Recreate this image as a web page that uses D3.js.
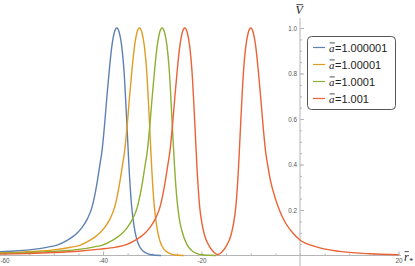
<!DOCTYPE html>
<html>
<head>
<meta charset="utf-8">
<script src="https://cdn.jsdelivr.net/npm/d3@7"></script>
<style>
  body { margin: 0; background: #fff; }
  svg { display: block; }
  .tick text { font-family: "Liberation Sans", Arial, sans-serif; fill: #555; }
</style>
</head>
<body>
<div id="chart_area"></div>
<script>
// legend labels (the part after the barred a)
var series_labels = ["=1.000001", "=1.00001", "=1.0001", "=1.001"];
var series_colors = ["#5e81b5", "#e19c24", "#8fb032", "#eb6235"];

// values: [r*, V]
var blue_pts = [[-61, 0.017], [-57.2, 0.021], [-54.2, 0.027], [-51.2, 0.037], [-49.2, 0.047], [-47.2, 0.068],
  [-46.2, 0.082], [-45.2, 0.1], [-44.2, 0.125], [-43.2, 0.16], [-42.2, 0.215], [-41.2, 0.32], [-40.7, 0.39],
  [-40.2, 0.46], [-39.7, 0.57], [-39.2, 0.7], [-38.7, 0.82], [-38.2, 0.92], [-37.7, 0.98], [-37.2, 1.0],
  [-36.7, 0.98], [-36.2, 0.92], [-35.7, 0.8], [-35.2, 0.6], [-34.7, 0.38], [-34.2, 0.22], [-33.7, 0.13],
  [-33.2, 0.075], [-32.7, 0.045], [-32.2, 0.027], [-31.2, 0.01], [-30.2, 0.003], [-28.2, 0.0]];
var orange_pts = [[-61, 0.012], [-56.6, 0.015], [-52.6, 0.02], [-49.6, 0.026], [-46.6, 0.036], [-44.6, 0.046],
  [-42.6, 0.068], [-41.6, 0.082], [-40.6, 0.1], [-39.6, 0.125], [-38.6, 0.16], [-37.6, 0.215], [-36.6, 0.32],
  [-36.1, 0.39], [-35.6, 0.46], [-35.1, 0.57], [-34.6, 0.7], [-34.1, 0.82], [-33.6, 0.92], [-33.1, 0.98],
  [-32.6, 1.0], [-32.1, 0.98], [-31.6, 0.92], [-31.1, 0.8], [-30.6, 0.6], [-30.1, 0.38], [-29.6, 0.22],
  [-29.1, 0.13], [-28.6, 0.075], [-28.1, 0.045], [-27.6, 0.027], [-26.6, 0.01], [-25.6, 0.003], [-23.6, 0.0]];
var green_pts = [[-61, 0.01], [-55, 0.013], [-52, 0.016], [-48, 0.021], [-45, 0.027], [-42, 0.037], [-40, 0.047],
  [-38, 0.068], [-37, 0.082], [-36, 0.1], [-35, 0.125], [-34, 0.16], [-33, 0.215], [-32, 0.32], [-31.5, 0.39],
  [-31, 0.46], [-30.5, 0.57], [-30, 0.7], [-29.5, 0.82], [-29, 0.92], [-28.5, 0.98], [-28, 1.0], [-27.5, 0.98],
  [-27, 0.92], [-26.5, 0.8], [-26, 0.6], [-25.5, 0.4], [-25, 0.25], [-24.5, 0.16], [-24, 0.11], [-23, 0.05],
  [-22, 0.022], [-21, 0.009], [-20, 0.003], [-17, 0.0]];
var red_pts = [[-61, 0.006], [-55, 0.009], [-50, 0.013], [-45, 0.019], [-40.6, 0.028], [-37.4, 0.037],
  [-35.4, 0.047], [-33.4, 0.068], [-32.4, 0.082], [-31.4, 0.1], [-30.4, 0.125], [-29.4, 0.16], [-28.4, 0.215],
  [-27.4, 0.32], [-26.9, 0.39], [-26.4, 0.46], [-25.9, 0.57], [-25.4, 0.7], [-24.9, 0.82], [-24.4, 0.92],
  [-23.9, 0.98], [-23.4, 1.0], [-22.9, 0.98], [-22.4, 0.92], [-21.9, 0.8], [-21.4, 0.6], [-20.9, 0.38],
  [-20.4, 0.22], [-19.9, 0.14], [-19.4, 0.09], [-18.4, 0.04], [-17.4, 0.012], [-16.7, 0.003], [-16.0, 0.012],
  [-15.0, 0.04], [-14.0, 0.09], [-13.5, 0.14], [-13.0, 0.22], [-12.5, 0.38], [-12.0, 0.6], [-11.5, 0.8],
  [-11.0, 0.92], [-10.5, 0.98], [-10.0, 1.0], [-9.5, 0.98], [-9.0, 0.92], [-8.5, 0.82], [-8.0, 0.7],
  [-7.5, 0.57], [-7.0, 0.46], [-6.5, 0.39], [-6.0, 0.33], [-5.0, 0.25], [-4.0, 0.19], [-3.0, 0.145],
  [-1.5, 0.1], [0, 0.068], [3, 0.04], [8, 0.018], [14, 0.008], [20, 0.003]];
var series = [blue_pts, orange_pts, green_pts, red_pts];

var x_major = [-60, -40, -20, 20];
var x_minor = d3.range(-60, 21, 5);
var y_major = [0.2, 0.4, 0.6, 0.8, 1.0];
var y_minor = d3.range(0.05, 1.01, 0.05);

var frame_width = 415, frame_height = 266;
var frame = d3.select("#chart_area").append("svg")
    .attr("width", frame_width)
    .attr("height", frame_height);

var xScale = d3.scaleLinear().domain([-60, 20]).range([4.5, 398.5]);
var yScale = d3.scaleLinear().domain([0, 1]).range([255.5, 28]);
var axis_color = "#b5b5b5";

// axis lines (Mathematica style, crossing at origin)
frame.append("line").attr("x1", 0).attr("x2", 401)
    .attr("y1", yScale(0)).attr("y2", yScale(0))
    .attr("stroke", axis_color).attr("stroke-width", 1);
frame.append("line").attr("x1", xScale(0)).attr("x2", xScale(0))
    .attr("y1", 18).attr("y2", 266)
    .attr("stroke", axis_color).attr("stroke-width", 1);

function styleAxis(g) {
  g.select(".domain").remove();
  g.selectAll(".tick line").attr("stroke", axis_color);
}

// x axis
frame.append("g").attr("transform", "translate(0," + yScale(0) + ")")
    .call(d3.axisBottom(xScale).tickValues(x_minor).tickSize(-2).tickFormat(""))
    .call(styleAxis);
frame.append("g").attr("transform", "translate(0," + yScale(0) + ")")
    .call(d3.axisBottom(xScale).tickValues(x_major).tickSize(-4).tickPadding(3)
      .tickFormat(function(d) { return d < 0 ? "-" + Math.abs(d) : d; }))
    .call(styleAxis)
    .selectAll("text").attr("font-size", 6.3);

// y axis
frame.append("g").attr("transform", "translate(" + xScale(0) + ",0)")
    .call(d3.axisLeft(yScale).tickValues(y_minor).tickSize(-2).tickFormat(""))
    .call(styleAxis);
frame.append("g").attr("transform", "translate(" + xScale(0) + ",0)")
    .call(d3.axisLeft(yScale).tickValues(y_major).tickSize(-4).tickPadding(3).tickFormat(d3.format(".1f")))
    .call(styleAxis)
    .selectAll("text").attr("font-size", 6.3);

// curves
var line = d3.line()
    .x(function(d) { return xScale(d[0]); })
    .y(function(d) { return yScale(d[1]); })
    .curve(d3.curveMonotoneX);

frame.append("g").selectAll("path")
    .data(series)
    .enter().append("path")
    .attr("d", line)
    .attr("fill", "none")
    .attr("stroke", function(d, i) { return series_colors[i]; })
    .attr("stroke-width", 1.4);

// barred italic letter helper
function barLetter(g, x, y, ch, size, fam) {
  var t = g.append("text").attr("x", x).attr("y", y)
      .attr("font-family", fam).attr("font-style", "italic")
      .attr("font-size", size).attr("fill", "#222").text(ch);
  var w = t.node().getComputedTextLength();
  g.append("line").attr("x1", x + w * 0.12).attr("x2", x + w * 1.05)
      .attr("y1", y - size * 0.78).attr("y2", y - size * 0.78)
      .attr("stroke", "#222").attr("stroke-width", 0.8);
  return w;
}

// axis labels
var lab = frame.append("g");
barLetter(lab, 295.5, 14, "V", 12, "Liberation Serif, serif");
var rw = barLetter(lab, 404, 261, "r", 12, "Liberation Serif, serif");
lab.append("text").attr("x", 404 + rw + 0.5).attr("y", 264)
    .attr("font-family", "Liberation Serif, serif").attr("font-size", 8).attr("fill", "#222").text("*");

// legend
var legend = frame.append("g");
legend.append("rect").attr("x", 307.5).attr("y", 36.5).attr("width", 88).attr("height", 73)
    .attr("rx", 4).attr("fill", "#fff").attr("stroke", "#444").attr("stroke-width", 0.9);
var row_y = [47.5, 64.5, 81.5, 98.5];
series_labels.forEach(function(s, i) {
  legend.append("line").attr("x1", 313).attr("x2", 325)
      .attr("y1", row_y[i]).attr("y2", row_y[i])
      .attr("stroke", series_colors[i]).attr("stroke-width", 1.2);
  var w = barLetter(legend, 329, row_y[i] + 4, "a", 11, "Liberation Serif, serif");
  legend.append("text").attr("x", 329 + w + 0.5).attr("y", row_y[i] + 4)
      .attr("font-family", "Liberation Sans, Arial, sans-serif").attr("font-size", 11)
      .attr("fill", "#222").text(s);
});
</script>
</body>
</html>
